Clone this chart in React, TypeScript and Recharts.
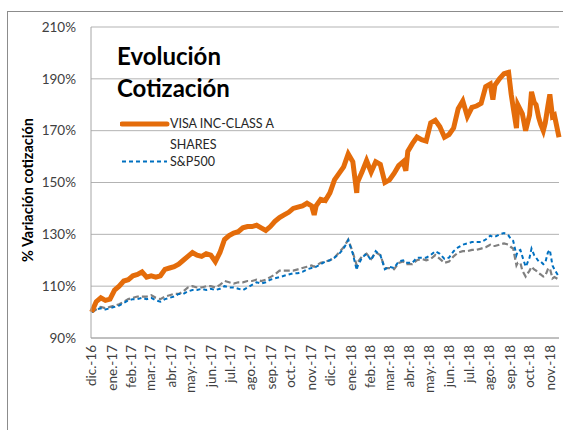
import { CartesianGrid, Line, LineChart, XAxis, YAxis } from "recharts"

const months = [
  "dic.-16", "ene.-17", "feb.-17", "mar.-17", "abr.-17", "may.-17", "jun.-17", "jul.-17",
  "ago.-17", "sep.-17", "oct.-17", "nov.-17", "dic.-17", "ene.-18", "feb.-18", "mar.-18",
  "abr.-18", "may.-18", "jun.-18", "jul.-18", "ago.-18", "sep.-18", "oct.-18", "nov.-18",
]

const yTicks = [90, 110, 130, 150, 170, 190, 210]

const dates = [
  "2016-12-30", "2017-01-06", "2017-01-13", "2017-01-20", "2017-01-27", "2017-02-03", "2017-02-10",
  "2017-02-17", "2017-02-24", "2017-03-03", "2017-03-10", "2017-03-17", "2017-03-24", "2017-03-31",
  "2017-04-07", "2017-04-14", "2017-04-21", "2017-04-28", "2017-05-05", "2017-05-12", "2017-05-19",
  "2017-05-26", "2017-06-02", "2017-06-09", "2017-06-16", "2017-06-23", "2017-06-30", "2017-07-07",
  "2017-07-14", "2017-07-21", "2017-07-28", "2017-08-04", "2017-08-11", "2017-08-18", "2017-08-25",
  "2017-09-01", "2017-09-08", "2017-09-15", "2017-09-22", "2017-09-29", "2017-10-06", "2017-10-13",
  "2017-10-20", "2017-10-27", "2017-11-03", "2017-11-10", "2017-11-17", "2017-11-24", "2017-12-01",
  "2017-12-05", "2017-12-08", "2017-12-15", "2017-12-22", "2017-12-29", "2018-01-05", "2018-01-12",
  "2018-01-19", "2018-01-26", "2018-02-02", "2018-02-08", "2018-02-09", "2018-02-16", "2018-02-23",
  "2018-03-02", "2018-03-09", "2018-03-16", "2018-03-23", "2018-03-30", "2018-04-06", "2018-04-13",
  "2018-04-20", "2018-04-24", "2018-04-27", "2018-05-04", "2018-05-11", "2018-05-18", "2018-05-25",
  "2018-06-01", "2018-06-08", "2018-06-15", "2018-06-22", "2018-06-29", "2018-07-06", "2018-07-13",
  "2018-07-20", "2018-07-27", "2018-08-03", "2018-08-10", "2018-08-17", "2018-08-24", "2018-08-31",
  "2018-09-04", "2018-09-07", "2018-09-14", "2018-09-21", "2018-09-28", "2018-10-02", "2018-10-05",
  "2018-10-10", "2018-10-12", "2018-10-16", "2018-10-19", "2018-10-24", "2018-10-26", "2018-10-30",
  "2018-11-02", "2018-11-06", "2018-11-09", "2018-11-13", "2018-11-16", "2018-11-20", "2018-11-23",
  "2018-11-27", "2018-11-30", "2018-12-04", "2018-12-07", "2018-12-14",
]

// % variation, base 100 on the first date
const visa = [
  100, 104, 105.5, 104.5, 105, 108.5, 110,
  112, 112.5, 114, 114.5, 115.5, 113.5, 114,
  113.5, 114, 116.5, 117, 117.5, 118.5, 120,
  121.5, 123, 122, 121.5, 122.5, 122, 119.5,
  123, 128, 129.5, 130.5, 131, 132.5, 133,
  133, 133.5, 132.5, 131.5, 133, 135, 136.5,
  137.5, 138.5, 140, 140.5, 141, 142, 141,
  137.5, 141, 143.5, 143, 146, 151, 153.5,
  156, 161, 158, 146, 150, 154, 158.5,
  154, 158, 157, 150, 151, 153.5, 156.5,
  158, 154.5, 162, 165, 167.5, 166.5, 166,
  173, 174, 171.5, 167.5, 168.5, 171, 178.5,
  181.5, 175.5, 179, 179.5, 180.5, 187, 188,
  182, 187.5, 190, 192, 192.5, 184, 179,
  171, 180, 178, 176.5, 170, 172, 176,
  185, 181, 180, 175, 172.5, 170, 173,
  179.5, 184, 175.5, 176, 167.5,
]

const sp500 = [
  100, 101, 101.5, 101, 101.5, 102, 102.5,
  103.5, 104.5, 105, 105, 105.5, 105, 105.5,
  104.5, 104, 105, 105.5, 106, 107, 107,
  108, 108.5, 108.5, 109, 108.5, 109, 108.5,
  109, 110, 109.5, 109.5, 109, 108.5, 109.5,
  110.5, 111.5, 111, 111.5, 112.5, 113, 113.5,
  114, 114.5, 115, 115, 115.5, 116.5, 117,
  117, 117.5, 118.5, 119.5, 120, 121, 122.5,
  124.5, 127.8, 122.5, 116.2, 117.5, 121, 122.5,
  120, 123.5, 122, 116.5, 117.5, 117, 119.5,
  120, 119, 119, 119, 121, 121, 121,
  122, 123.5, 122.5, 120.5, 121, 123.5, 125,
  126, 126.5, 127, 127, 127, 128, 129.5,
  129, 129, 130, 130.5, 129.5, 128, 127.5,
  122, 123.5, 124, 121.5, 117.5, 118.5, 121,
  124.5, 122, 121, 119.5, 119.5, 118.5, 119,
  123, 124, 118, 116.5, 113.5,
]

const benchmark = [
  100, 101, 102, 101.5, 102, 102.5, 103,
  104, 105, 105.5, 106, 106, 106, 106.5,
  105.5, 105, 106, 106.5, 107, 107, 108,
  109.5, 110, 109.5, 109.5, 110, 110, 109.5,
  110.5, 112, 111.5, 111, 111.5, 111.5, 112,
  112, 112.5, 112, 112.5, 113.5, 114.5, 116,
  116, 116, 116, 116.5, 117, 117.5, 118,
  117.5, 118, 119, 119.5, 120, 121, 123,
  125, 128, 123, 118, 119, 121.5, 122.5,
  120.5, 123, 122, 117, 117, 116.5, 119,
  119.5, 118.5, 118.5, 118.5, 120, 120.5, 120,
  120.5, 122, 120.5, 119, 119.5, 121.5, 123,
  123.5, 123.5, 124, 124, 124.5, 125, 126,
  125.5, 125.5, 126, 126.5, 126, 125, 124.5,
  118, 119, 119, 116, 113.7, 114.5, 116,
  117.5, 116.5, 116, 115, 114.5, 113.7, 114,
  116.5, 117, 113, 113.5, 112.5,
]

const data = dates.map((d, i) => ({
  t: Date.parse(d),
  visa: visa[i],
  sp500: sp500[i],
  benchmark: benchmark[i],
}))

// Excel date axis: one tick per month, on the 30th (or the last day of the month)
const monthTicks = months.map((_, i) => {
  const y = 2016 + Math.floor((11 + i) / 12)
  const m = (11 + i) % 12
  const last = new Date(Date.UTC(y, m + 1, 0)).getUTCDate()
  return Date.UTC(y, m, Math.min(30, last))
})
const labelOf = new Map(monthTicks.map((t, i) => [t, months[i]]))

const FONT = "Lato, 'Open Sans', sans-serif"
const TEXT = "#404040"
const ORANGE = "#E46C0A"
const BLUE = "#0070C0"
const GREY = "#808080"

function MonthTick(props: any) {
  const { x, y, payload } = props
  return (
    <g transform={`translate(${x},${y})`}>
      <text
        transform="rotate(-90)"
        x={0}
        y={0}
        dy="0.35em"
        textAnchor="end"
        fontSize={13.5}
        fontFamily={FONT}
        fill={TEXT}
      >
        {labelOf.get(payload.value)}
      </text>
    </g>
  )
}

export default function App() {
  return (
    <div
      style={{
        position: "absolute",
        left: 0,
        top: 0,
        width: 563,
        height: 430,
        overflow: "hidden",
        background: "#fff",
        fontFamily: FONT,
      }}
    >
      <div
        style={{
          position: "absolute",
          left: 7,
          top: 11,
          width: 620,
          height: 500,
          border: "1.5px solid #8c8c8c",
        }}
      />
      <LineChart
        width={563}
        height={430}
        data={data}
        margin={{ top: 27, right: 4, bottom: 12, left: 0 }}
      >
        <CartesianGrid vertical={false} stroke="#b3b3b3" />
        <XAxis
          dataKey="t"
          type="number"
          scale="time"
          domain={[Date.UTC(2016, 11, 29), Date.UTC(2018, 11, 14)]}
          ticks={monthTicks}
          interval={0}
          tick={<MonthTick />}
          tickLine={false}
          tickSize={0}
          tickMargin={7}
          height={80}
          stroke="#a6a6a6"
        />
        <YAxis
          domain={[90, 210]}
          ticks={yTicks}
          tickFormatter={(v) => `${v}%`}
          width={91}
          tickLine={false}
          tickMargin={9}
          tick={{ fontSize: 13.5, fontFamily: FONT, fill: TEXT }}
          stroke="#a6a6a6"
        />
        <Line
          dataKey="benchmark"
          stroke={GREY}
          strokeWidth={2.2}
          strokeDasharray="6 3"
          dot={false}
          isAnimationActive={false}
        />
        <Line
          dataKey="sp500"
          name="S&P500"
          stroke={BLUE}
          strokeWidth={2}
          strokeDasharray="4 3"
          dot={false}
          isAnimationActive={false}
        />
        <Line
          dataKey="visa"
          name="VISA INC-CLASS A SHARES"
          stroke={ORANGE}
          strokeWidth={5}
          dot={false}
          isAnimationActive={false}
        />
      </LineChart>

      <div
        style={{
          position: "absolute",
          left: 117,
          top: 40,
          fontSize: 24,
          fontWeight: 700,
          lineHeight: "32px",
          color: "#000",
        }}
      >
        Evolución
        <br />
        Cotización
      </div>

      <svg style={{ position: "absolute", left: 120, top: 115 }} width={50} height={55}>
        <line x1={2} y1={9} x2={47} y2={9} stroke={ORANGE} strokeWidth={5} strokeLinecap="round" />
        <line x1={2} y1={46.5} x2={47} y2={46.5} stroke={BLUE} strokeWidth={2} strokeDasharray="4 3" />
      </svg>
      <div style={{ position: "absolute", left: 170, top: 116, fontSize: 12.5, color: "#262626", lineHeight: "16px" }}>
        VISA INC-CLASS A
      </div>
      <div style={{ position: "absolute", left: 170, top: 137, fontSize: 12.5, color: "#262626", lineHeight: "16px" }}>
        SHARES
      </div>
      <div style={{ position: "absolute", left: 170, top: 154, fontSize: 12.5, color: "#262626", lineHeight: "16px" }}>
        S&amp;P500
      </div>

      <div
        style={{
          position: "absolute",
          left: -72,
          top: 181,
          width: 200,
          textAlign: "center",
          fontSize: 14.5,
          fontWeight: 700,
          lineHeight: "18px",
          color: "#000",
          transform: "rotate(-90deg)",
        }}
      >
        % Variación cotización
      </div>
    </div>
  )
}
